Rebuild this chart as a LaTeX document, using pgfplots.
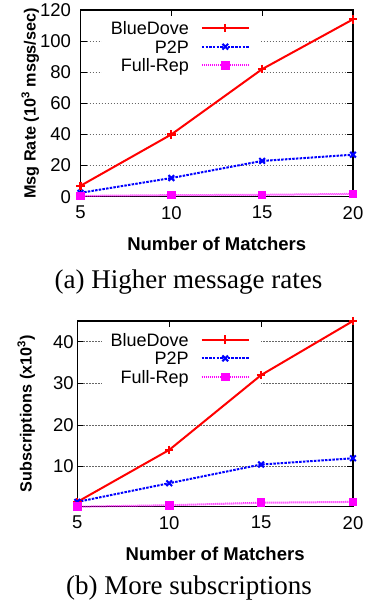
\documentclass[border=0pt]{standalone}
\usepackage{pgfplots}
\pgfplotsset{compat=1.18}
\usepackage{fontspec}
\setmainfont{Liberation Sans}
\newfontfamily\capfont{Liberation Serif}
\definecolor{cRed}{RGB}{255,0,0}
\definecolor{cBlue}{RGB}{0,0,255}
\definecolor{cMag}{RGB}{255,0,255}
\tikzset{
  sBD/.style={draw=cRed, color=cRed, line width=2pt, solid, mark=+, mark size=4.2pt, mark options={solid, line width=2.1pt}},
  sP2P/.style={draw=cBlue, color=cBlue, line width=2pt, dash pattern=on 2.5pt off 1.2pt, mark=x, mark size=4pt, mark options={solid, line width=2.1pt}},
  sFR/.style={draw=cMag, color=cMag, line width=2pt, dash pattern=on 1pt off 1pt, mark=square*, mark size=3.3pt, mark options={solid, fill=cMag}},
}
\pgfplotsset{
  common/.style={
    scale only axis, xmin=5, xmax=20, xtick={5,10,15,20},
    clip=false,
    tick align=inside, major tick length=6pt,
    every tick/.style={black, line width=0.9pt},
    axis line style={black, line width=1.2pt},
    ymajorgrids,
    major grid style={black!60, dash pattern=on 1.5pt off 1.5pt, line width=0.8pt},
    /pgf/number format/assume math mode=true,
    tick label style={font=\fontsize{18.5}{20}\selectfont},
    xticklabel style={yshift=-6pt},
    xlabel style={font=\fontsize{18.5}{20}\selectfont\bfseries, at={(axis description cs:0.5,0)}, anchor=base, yshift=-53.3pt},
    ylabel style={font=\fontsize{16.2}{18}\selectfont\bfseries},
    legend plot pos=right, legend cell align=right,
    legend image code/.code={\draw[mark repeat=2,mark phase=2,##1] plot coordinates {(0pt,0pt) (23.5pt,0pt) (47pt,0pt)};},
    legend style={anchor=north east, fill=none, draw=none, inner xsep=11pt, inner ysep=2pt,
      row sep=1.7pt, /tikz/column sep=12pt,
      nodes={inner sep=0pt, text height=15pt, text depth=2pt},
      font=\fontsize{18}{20}\selectfont},
  },
}
\begin{document}
\begin{tikzpicture}
\useasboundingbox (0pt,-609pt) rectangle (368pt,0pt);
\begin{axis}[common,
  at={(80.5pt,-196.7pt)}, anchor=south west,
  width=272.5pt, height=186.7pt,
  ymin=0, ymax=120, ytick={0,20,40,60,80,100,120},
  yticklabel style={xshift=-6pt},
  xlabel={Number of Matchers},
  ylabel={Msg Rate (10\textsuperscript{3} msgs/sec)},
  ylabel style={at={(axis description cs:-0.1644,0.5)}, anchor=base},
  legend style={at={(0.6624,0.961)}},
]
\fill[white] (rel axis cs:0.0789,0.648) rectangle (rel axis cs:0.6624,0.961);
\addplot[sBD] coordinates {(5,7) (10,40) (15,82) (20,114)};
\addlegendentry{\makebox[79pt][r]{BlueDove}}
\addplot[sP2P] coordinates {(5,2.5) (10,12) (15,23) (20,27)};
\addlegendentry{\makebox[79pt][r]{P2P}}
\addplot[sFR] coordinates {(5,0.5) (10,1) (15,1.2) (20,1.8)};
\addlegendentry{\makebox[79pt][r]{Full-Rep}}
\end{axis}
\node[anchor=base, font=\capfont\fontsize{27}{30}\selectfont] at (188.5pt,-288pt) {(a) Higher message rates};
\begin{axis}[common,
  at={(77.3pt,-506.7pt)}, anchor=south west,
  width=275.7pt, height=185.7pt,
  ymin=0.35, ymax=45, ytick={10,20,30,40},
  xlabel={Number of Matchers},
  ylabel={Subscriptions (x10\textsuperscript{3})},
  ylabel style={at={(axis description cs:-0.166,0.5)}, anchor=base},
  legend style={at={(0.666,0.957)}},
]
\fill[white] (rel axis cs:0.0896,0.643) rectangle (rel axis cs:0.666,0.957);
\addplot[sBD] coordinates {(5,1.5) (10,14) (15,32) (20,45)};
\addlegendentry{\makebox[79pt][r]{BlueDove}}
\addplot[sP2P] coordinates {(5,1.5) (10,6) (15,10.5) (20,12)};
\addlegendentry{\makebox[79pt][r]{P2P}}
\addplot[sFR] coordinates {(5,0.35) (10,0.7) (15,1.3) (20,1.5)};
\addlegendentry{\makebox[79pt][r]{Full-Rep}}
\end{axis}
\node[anchor=base, font=\capfont\fontsize{27}{30}\selectfont] at (189pt,-594pt) {(b) More subscriptions};
\end{tikzpicture}
\end{document}
